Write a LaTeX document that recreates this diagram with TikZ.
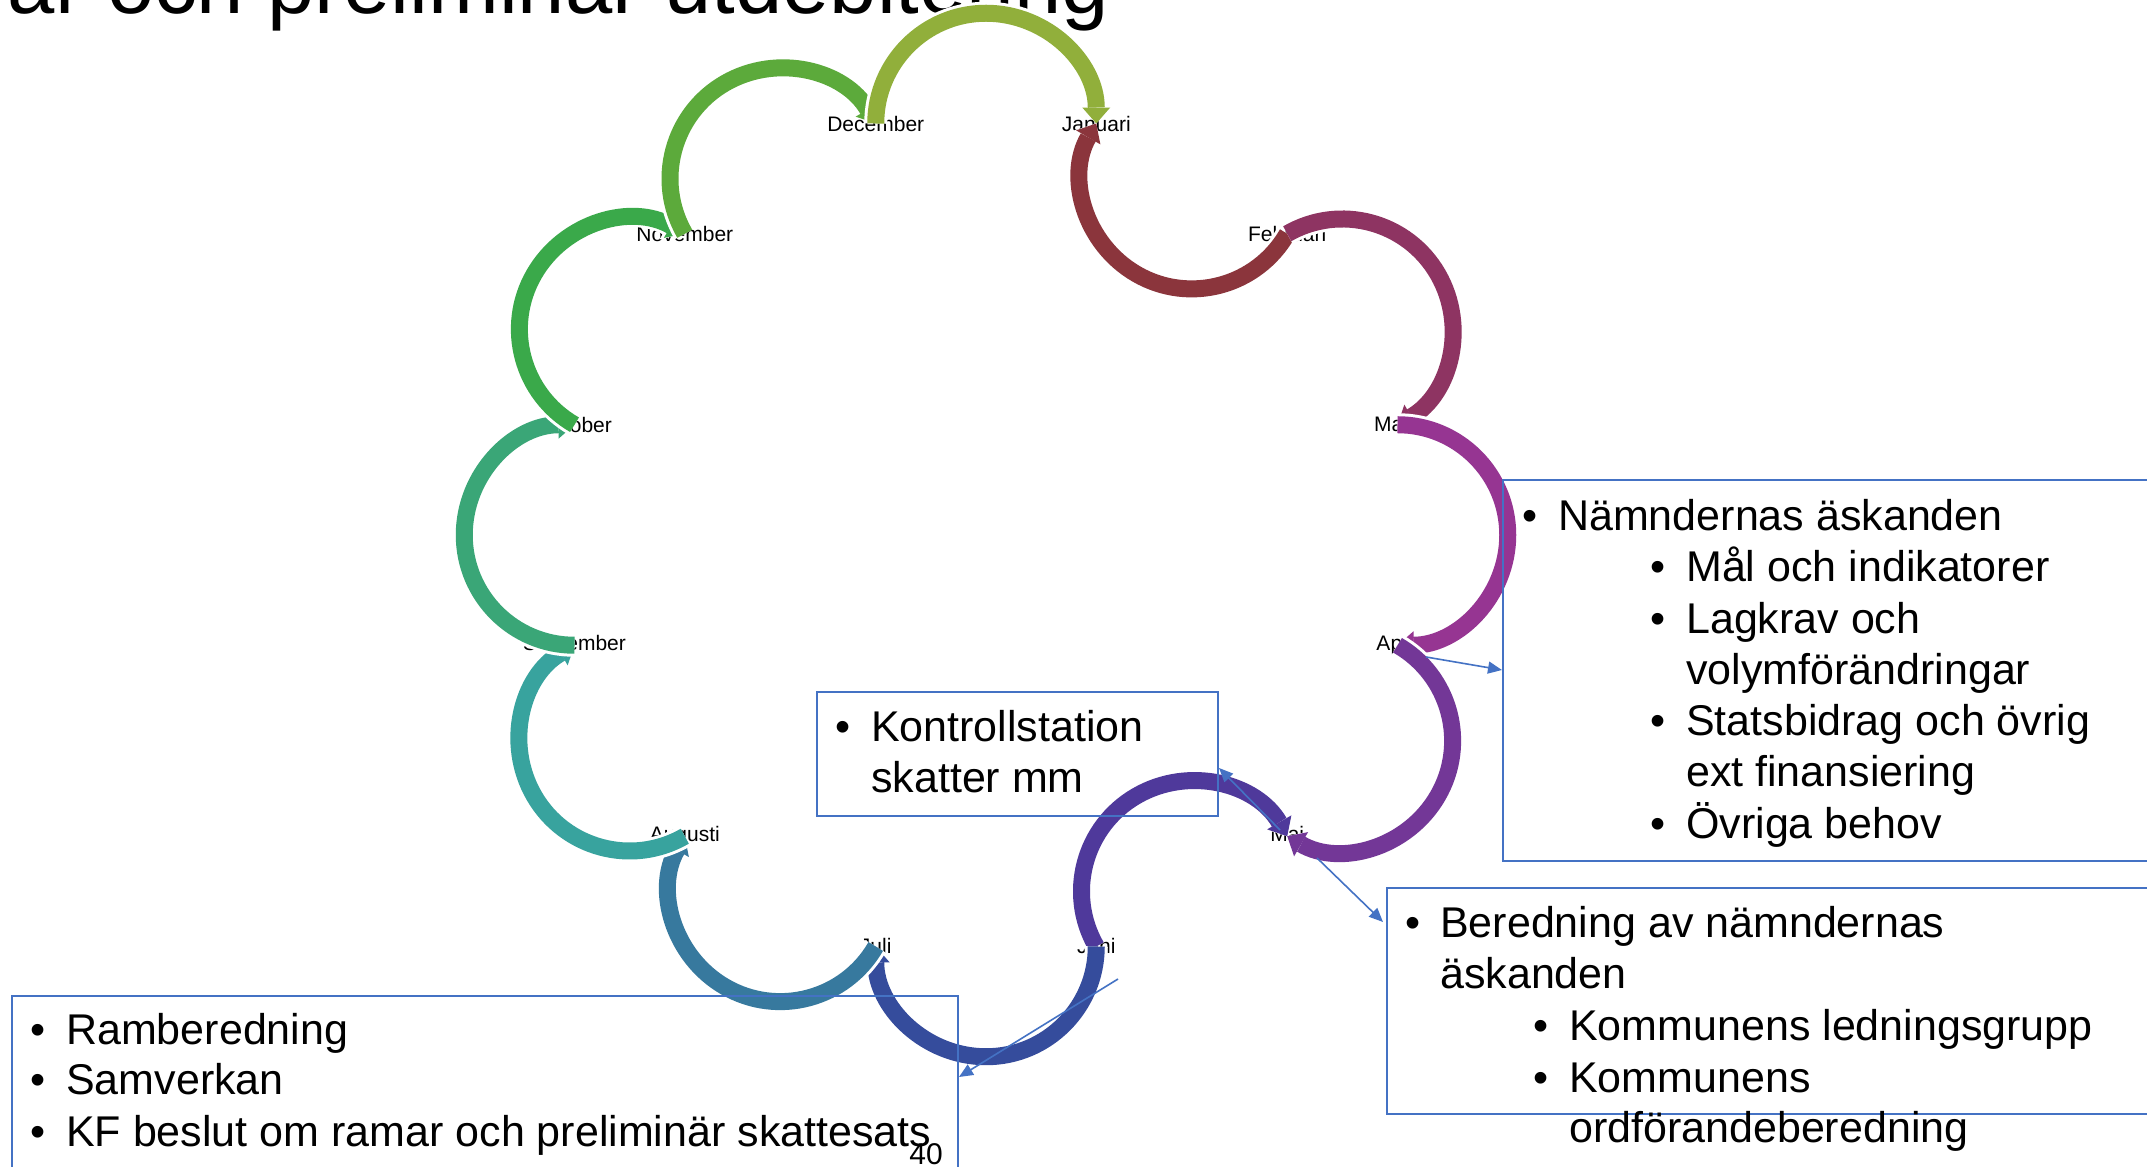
\documentclass[tikz,border=0pt]{standalone}
\usepackage{fontspec}
\setmainfont{Liberation Sans}
\usetikzlibrary{arrows.meta}
\definecolor{boxblue}{HTML}{4472C4}
\definecolor{cA}{HTML}{8B353C}
\definecolor{cB}{HTML}{8E3462}
\definecolor{cC}{HTML}{963592}
\definecolor{cD}{HTML}{733797}
\definecolor{cE}{HTML}{4F399B}
\definecolor{cF}{HTML}{354C9C}
\definecolor{cG}{HTML}{37799E}
\definecolor{cH}{HTML}{38A39E}
\definecolor{cI}{HTML}{3AA677}
\definecolor{cJ}{HTML}{3AA94A}
\definecolor{cK}{HTML}{5CAA3B}
\definecolor{cL}{HTML}{91AF3B}
\begin{document}
\begin{tikzpicture}[x=1pt,y=1pt,
  month/.style={font=\fontsize{21}{25}\selectfont, inner sep=0pt, text=black},
  cyc/.style={line width=17pt, -{Triangle[width=28pt,length=16pt,line width=0pt]},
    preaction={draw=white, line width=23pt, -{Triangle[width=35pt,length=19pt,line width=0pt]}}},
  box/.style={draw=boxblue, line width=2pt, inner sep=0pt, anchor=north west},
  bt/.style={font=\fontsize{43}{52}\selectfont, anchor=base west, inner sep=0pt},
  conn/.style={draw=boxblue, line width=1.6pt, -{Triangle[width=12pt,length=14pt]}}
]
\useasboundingbox (0,0) rectangle (2147,1167);
\fill[white] (0,0) rectangle (2147,1167);
\coordinate (C) at (986,632);

% title (cut at top)
\node[font=\fontsize{85}{100}\selectfont, anchor=base east, inner sep=0pt] (title) at (1109,1153) {ar och preliminär utdebitering};

% month labels
\foreach \n/\a/\t in {jan/75/Januari, feb/45/Februari, mar/15/Mars, apr/-15/April,
  maj/-45/Maj, jun/-75/Juni, jul/-105/Juli, aug/-135/Augusti, sep/-165/September,
  okt/165/Oktober, nov/135/November, dec/105/December}
  \node[month] (\n) at ([shift={(\a:426)}]C) {\t};

% cycle arcs
\draw[cyc, draw=cA] (feb.center) arc[start angle=-30, end angle=-210, radius=110.26];
\draw[cyc, draw=cB] (feb.center) arc[start angle=120, end angle=-60, radius=110.26];
\draw[cyc, draw=cC] (mar.center) arc[start angle=90, end angle=-90, radius=110.26];
\draw[cyc, draw=cD] (apr.center) arc[start angle=60, end angle=-120, radius=110.26];
\draw[cyc, draw=cE] (jun.center) arc[start angle=-150, end angle=-330, radius=110.26];
\draw[cyc, draw=cF] (jun.center) arc[start angle=0, end angle=-180, radius=110.26];
\draw[cyc, draw=cG] (jul.center) arc[start angle=-30, end angle=-210, radius=110.26];
\draw[cyc, draw=cH] (aug.center) arc[start angle=-60, end angle=-240, radius=110.26];
\draw[cyc, draw=cI] (sep.center) arc[start angle=270, end angle=90, radius=110.26];
\draw[cyc, draw=cJ] (okt.center) arc[start angle=240, end angle=60, radius=110.26];
\draw[cyc, draw=cK] (nov.center) arc[start angle=210, end angle=30, radius=110.26];
\draw[cyc, draw=cL] (dec.center) arc[start angle=180, end angle=0, radius=110.26];

% boxes
\node[box, minimum width=658pt, minimum height=381pt] (boxR) at (1502,688) {};
\node[box, minimum width=401pt, minimum height=124pt] (boxK) at (816,476) {};
\node[box, minimum width=774pt, minimum height=226pt] (boxB) at (1386,280) {};
\node[box, minimum width=946pt, minimum height=200pt] (boxL) at (11,172) {};

% right box text
\node[bt] (r0b) at (1522,636) {•};
\node[bt] (r0) at (1558,636) {Nämndernas äskanden};
\node[bt] (r1b) at (1650,585) {•};
\node[bt] (r1) at (1686,585) {Mål och indikatorer};
\node[bt] (r2b) at (1650,533) {•};
\node[bt] (r2) at (1686,533) {Lagkrav och};
\node[bt] (r3) at (1686,482) {volymförändringar};
\node[bt] (r4b) at (1650,431) {•};
\node[bt] (r4) at (1686,431) {Statsbidrag och övrig};
\node[bt] (r5) at (1686,380) {ext finansiering};
\node[bt] (r6b) at (1650,328) {•};
\node[bt] (r6) at (1686,328) {Övriga behov};

% Kontrollstation box text
\node[bt] (k0b) at (835,425) {•};
\node[bt] (k0) at (871,425) {Kontrollstation};
\node[bt] (k1) at (871,374) {skatter mm};

% Beredning box text
\node[bt] (b0b) at (1405,229) {•};
\node[bt] (b0) at (1440,229) {Beredning av nämndernas};
\node[bt] (b1) at (1440,178) {äskanden};
\node[bt] (b2b) at (1533,126) {•};
\node[bt] (b2) at (1569,126) {Kommunens ledningsgrupp};
\node[bt] (b3b) at (1533,74) {•};
\node[bt] (b3) at (1569,74) {Kommunens};
\node[bt] (b4) at (1569,24) {ordförandeberedning};

% bottom-left box text
\node[bt] (l0b) at (30,122) {•};
\node[bt] (l0) at (66,122) {Ramberedning};
\node[bt] (l1b) at (30,72) {•};
\node[bt] (l1) at (66,72) {Samverkan};
\node[bt] (l2b) at (30,20) {•};
\node[bt] (l2) at (66,20) {KF beslut om ramar och preliminär skattesats};

% page number
\node[font=\fontsize{30}{36}\selectfont, inner sep=0pt] (pnum) at (926,13) {40};

% connectors
\coordinate (ta) at (1426,510);
\coordinate (ha) at (1502,497);
\coordinate (tb) at (1317,309);
\coordinate (hb) at (1383,245);
\coordinate (tc) at (1280,337);
\coordinate (hc) at (1219,399);
\coordinate (td) at (1118,188);
\coordinate (hd) at (959,90);
\draw[conn] (ta) -- (ha);
\draw[conn] (tb) -- (hb);
\draw[conn] (tc) -- (hc);
\draw[conn] (td) -- (hd);
\end{tikzpicture}
\end{document}
